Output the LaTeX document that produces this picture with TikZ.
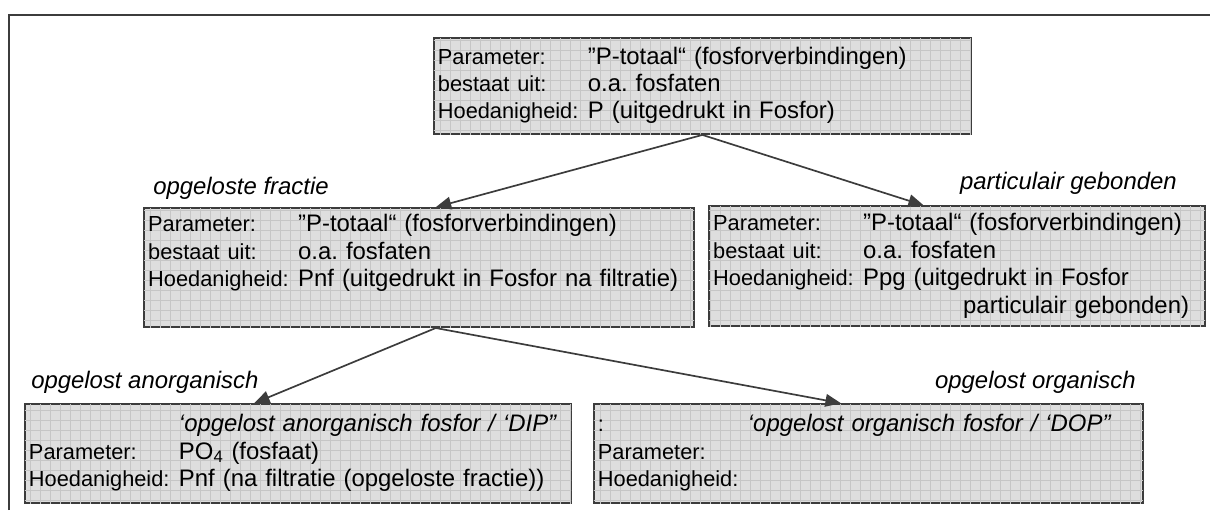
\documentclass[tikz,border=0pt]{standalone}
\usepackage{fontspec}
\setmainfont{Liberation Sans}
\usepackage{array}
\usepackage{tikz}
\usetikzlibrary{arrows.meta,calc,patterns.meta}
\definecolor{boxgrey}{HTML}{DEDEDE}
\definecolor{gridgrey}{HTML}{C6C6C6}
\definecolor{edgegrey}{HTML}{3C3C3C}
\frenchspacing
\newcommand{\labfont}{\fontsize{15.5}{19.5}\selectfont}
\newcommand{\ptab}[1]{\begin{tabular}{@{}>{\labfont}p{3.75cm}@{}l@{}}#1\end{tabular}}

\begin{document}
\begin{tikzpicture}[
			pbox/.style={draw=edgegrey,line width=1.3pt,fill=boxgrey,
				postaction={pattern={Hatch[angle=0,distance=2.5mm,line width=0.4pt]},pattern color=gridgrey},
				inner xsep=0.1cm,inner ysep=0pt,align=left,font=\fontsize{17}{19.5}\selectfont},
			tag/.style={inner sep=0pt,font=\fontsize{17}{19.5}\selectfont\itshape},
			arr/.style={draw=edgegrey,line width=1.2pt,-{Triangle[length=11pt,width=9pt]}}
			]
			\useasboundingbox (0,0) rectangle (30.25,-12.75);
			% open frame
			\draw[edgegrey,line width=1.3pt] (0.225,-12.75) |- (30.25,-0.375);
			% boxes
			\node[pbox,text width=13.225cm,minimum height=2.4cm] (tot) at (17.56,-2.15)
			{\ptab{Parameter: & ”P-totaal“ (fosforverbindingen)\\
					bestaat uit: & o.a. fosfaten\\
					Hoedanigheid: & P (uitgedrukt in Fosfor)}};
			\node[pbox,text width=13.55cm,minimum height=2.975cm] (opg) at (10.48,-6.69)
			{\ptab{Parameter: & ”P-totaal“ (fosforverbindingen)\\
					bestaat uit: & o.a. fosfaten\\
					Hoedanigheid: & Pnf (uitgedrukt in Fosfor na filtratie)\\
					& }};
			\node[pbox,text width=12.2cm,minimum height=3cm] (part) at (23.93,-6.66)
			{\ptab{Parameter: & ”P-totaal“ (fosforverbindingen)\\
					bestaat uit: & o.a. fosfaten\\
					Hoedanigheid: & Ppg (uitgedrukt in Fosfor\\
					& \hspace{2.5cm}particulair gebonden)}};
			\node[pbox,text width=13.45cm,minimum height=2.475cm] (anorg) at (7.45,-11.34)
			{\ptab{ & \itshape ‘opgelost anorganisch fosfor / ‘DIP”\\
					Parameter: & PO\textsubscript{4} (fosfaat)\\
					Hoedanigheid: & Pnf (na filtratie (opgeloste fractie))}};
			\node[pbox,text width=13.525cm,minimum height=2.475cm] (org) at (21.71,-11.34)
			{\ptab{: & \itshape ‘opgelost organisch fosfor / ‘DOP”\\
					Parameter: & \\
					Hoedanigheid: & }};
			% italic captions
			\node[tag,anchor=west] (topg) at (3.825,-4.7) {opgeloste fractie};
			\node[tag,anchor=east] (tpart) at (29.425,-4.575) {particulair gebonden};
			\node[tag,anchor=west] (tanorg) at (0.775,-9.55) {opgelost anorganisch};
			\node[tag,anchor=east] (torg) at (28.4,-9.55) {opgelost organisch};
			% arrows
			\draw[arr] (tot.south) -- ($(opg.north west)!0.53!(opg.north east)$);
			\draw[arr] (tot.south) -- ($(part.north west)!0.433!(part.north east)$);
			\draw[arr] ($(opg.south west)!0.53!(opg.south east)$) -- ($(anorg.north west)!0.42!(anorg.north east)$);
			\draw[arr] ($(opg.south west)!0.53!(opg.south east)$) -- ($(org.north west)!0.45!(org.north east)$);
		\end{tikzpicture}
\end{document}
